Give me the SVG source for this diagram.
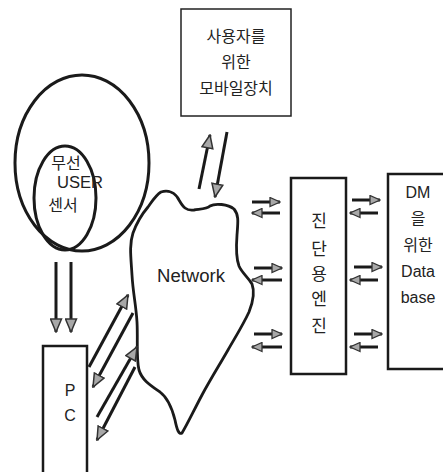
<svg xmlns="http://www.w3.org/2000/svg" width="443" height="472" viewBox="0 0 443 472">
<style>
.t{font-family:"Liberation Sans","Noto Sans CJK KR",sans-serif;font-size:16px;fill:#222;text-anchor:middle}
.box{fill:#fff;stroke:#1a1a1a;stroke-width:2.5}
.ln{stroke:#1a1a1a;stroke-width:3;fill:none}
.a{marker-end:url(#ah)}
.s{marker-end:url(#sh)}
</style>
<defs>
<marker id="ah" markerUnits="userSpaceOnUse" markerWidth="15" markerHeight="13" viewBox="0 0 15 13" refX="14" refY="6.5" orient="auto">
<path d="M1,1 L14,6.5 L1,12 Z" fill="#a8a8a8" stroke="#333" stroke-width="1.5"/>
</marker>
<marker id="sh" markerUnits="userSpaceOnUse" markerWidth="12" markerHeight="11" viewBox="0 0 12 11" refX="11" refY="5.5" orient="auto">
<path d="M1,1 L11,5.5 L1,10 Z" fill="#a8a8a8" stroke="#333" stroke-width="1.3"/>
</marker>
</defs>
<rect width="443" height="472" fill="#fff"/>
<g id="mobile">
<rect x="181" y="9" width="110" height="107" fill="#fff" stroke="#222" stroke-width="1.5"/>
<text class="t" x="236" y="42">사용자를</text>
<text class="t" x="236" y="68">위한</text>
<text class="t" x="236" y="94">모바일장치</text>
</g>
<g id="user">
<ellipse cx="82" cy="163" rx="67" ry="88" fill="none" stroke="#1a1a1a" stroke-width="3"/>
<ellipse cx="65" cy="198" rx="31" ry="52" fill="none" stroke="#1a1a1a" stroke-width="3"/>
<text class="t" x="66" y="169">무선</text>
<text class="t" x="80" y="188" textLength="46" lengthAdjust="spacingAndGlyphs">USER</text>
<text class="t" x="63" y="211">센서</text>
</g>
<g id="network">
<path d="M161,192 C168,190 175,192 179,200 C183,207 186,211 194,210 C200,209 207,209 210,206 C215,203 228,204 234,209 C239,215 238,222 237,235 C236,248 236,258 239,266 C242,273 248,277 252,284 C255,292 253,302 249,312 C243,325 236,336 228,350 C220,364 210,380 202,395 C194,410 187,425 182,433 C179,435 177,430 175,420 C172,408 168,398 160,392 C150,385 142,380 139,370 C136,358 138,340 137,322 C136,305 133,293 132,275 C131,258 129,245 133,233 C137,222 142,214 148,207 C153,200 156,195 161,192 Z" fill="#fff" stroke="#1a1a1a" stroke-width="2.8"/>
<text class="t" x="191" y="282" style="font-size:18px" textLength="68" lengthAdjust="spacingAndGlyphs">Network</text>
</g>
<g id="engine">
<rect x="291" y="178" width="55" height="196" class="box"/>
<text class="t" x="319" y="227" style="font-size:17px">진</text>
<text class="t" x="319" y="255" style="font-size:17px">단</text>
<text class="t" x="319" y="280" style="font-size:17px">용</text>
<text class="t" x="319" y="305" style="font-size:17px">엔</text>
<text class="t" x="319" y="332" style="font-size:17px">진</text>
</g>
<g id="database">
<path d="M443,174 L388,174 L388,369 L443,369" class="box"/>
<text class="t" x="418" y="198">DM</text>
<text class="t" x="418" y="224">을</text>
<text class="t" x="418" y="251">위한</text>
<text class="t" x="418" y="277">Data</text>
<text class="t" x="418" y="303">base</text>
</g>
<g id="pc">
<rect x="43" y="346" width="44" height="130" class="box"/>
<text class="t" x="70" y="396">P</text>
<text class="t" x="70" y="421">C</text>
</g>
<g id="connectors">
<line class="ln a" x1="56" y1="262" x2="56" y2="332"/>
<line class="ln a" x1="71" y1="262" x2="71" y2="332"/>
<line class="ln a" x1="199" y1="189" x2="210" y2="135"/>
<line class="ln a" x1="227" y1="132" x2="215" y2="197"/>
<line class="ln a" x1="89" y1="367" x2="128" y2="295"/>
<line class="ln a" x1="133" y1="313" x2="93" y2="387"/>
<line class="ln a" x1="97" y1="417" x2="137" y2="347"/>
<line class="ln a" x1="135" y1="367" x2="97" y2="440"/>
<line class="ln s" x1="252" y1="202" x2="280" y2="202"/>
<line class="ln s" x1="280" y1="213" x2="252" y2="213"/>
<line class="ln s" x1="254" y1="268" x2="282" y2="268"/>
<line class="ln s" x1="282" y1="280" x2="252" y2="280"/>
<line class="ln s" x1="254" y1="334" x2="282" y2="334"/>
<line class="ln s" x1="282" y1="347" x2="252" y2="347"/>
<line class="ln s" x1="352" y1="200" x2="380" y2="200"/>
<line class="ln s" x1="378" y1="213" x2="350" y2="213"/>
<line class="ln s" x1="354" y1="267" x2="382" y2="267"/>
<line class="ln s" x1="378" y1="280" x2="350" y2="280"/>
<line class="ln s" x1="354" y1="334" x2="382" y2="334"/>
<line class="ln s" x1="378" y1="347" x2="350" y2="347"/>
</g>
</svg>
